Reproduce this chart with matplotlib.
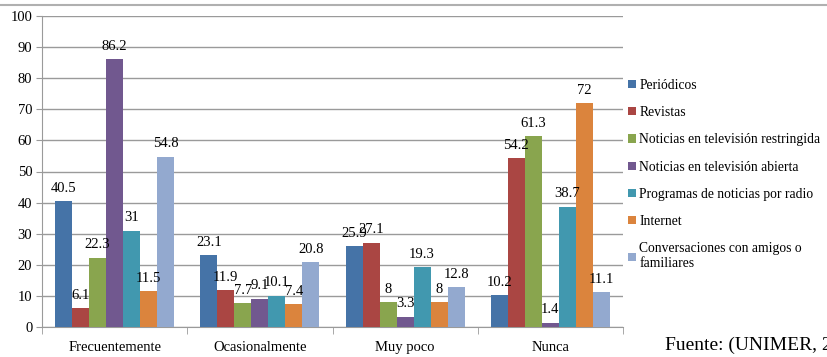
import matplotlib.pyplot as plt
import matplotlib.lines as mlines
import numpy as np

plt.rcParams['font.family'] = ['Liberation Serif', 'DejaVu Serif']

# categorias y series
categorias = ["Frecuentemente", "Ocasionalmente", "Muy poco", "Nunca"]
series = ["Periódicos", "Revistas", "Noticias en televisión restringida",
          "Noticias en televisión abierta", "Programas de noticias por radio",
          "Internet", "Conversaciones con amigos o\nfamiliares"]
periodicos = [40.5, 23.1, 25.9, 10.2]
revistas = [6.1, 11.9, 27.1, 54.2]
tv_restringida = [22.3, 7.7, 8, 61.3]
tv_abierta = [86.2, 9.1, 3.3, 1.4]
radio = [31, 10.1, 19.3, 38.7]
internet = [11.5, 7.4, 8, 72]
conversaciones = [54.8, 20.8, 12.8, 11.1]
valores = [periodicos, revistas, tv_restringida, tv_abierta, radio, internet, conversaciones]
colores = ["#4573A7", "#AA4643", "#89A54E", "#71588F", "#4198AF", "#DB843D", "#93A9CF"]

fig = plt.figure(figsize=(8.27, 3.57), dpi=100)
ax = fig.add_axes([42/827, 30/357, 581/827, 311/357])

x = np.arange(len(categorias))
grupo = 0.82
ancho = grupo / 7
for i, (vals, c, nombre) in enumerate(zip(valores, colores, series)):
    pos = x - grupo / 2 + ancho * (i + 0.5)
    ax.bar(pos, vals, ancho, color=c, label=nombre, zorder=3)
    for p, v in zip(pos, vals):
        ax.annotate(f"{v:g}", (p, v), xytext=(0, 4.5), textcoords="offset points",
                    ha="center", va="bottom", fontsize=10.5, zorder=4)

ax.set_xlim(-0.5, 3.5)
ax.set_ylim(0, 100)
ax.set_yticks(range(0, 101, 10))
ax.tick_params(axis="y", labelsize=10.5, length=4, color="#9A9A9A", pad=3)
ax.grid(axis="y", color="#9A9A9A", linewidth=1, zorder=0)
ax.set_xticks(x)
ax.set_xticklabels(categorias, fontsize=10.5)
ax.tick_params(axis="x", length=0, pad=10)
ax.set_xticks(np.arange(-0.5, 4, 1), minor=True)
ax.tick_params(axis="x", which="minor", length=5, color="#9A9A9A")
for s in ["top", "right"]:
    ax.spines[s].set_visible(False)
for s in ["left", "bottom"]:
    ax.spines[s].set_color("#9A9A9A")

ax.legend(loc="center left", bbox_to_anchor=(1.0, 0.49), frameon=False, fontsize=9.8,
          handlelength=0.55, handleheight=0.55, handletextpad=0.25, labelspacing=1.05,
          borderaxespad=0.2, borderpad=0.2)

# linea y resto del titulo cortado arriba
fig.add_artist(mlines.Line2D([0, 1], [1 - 5/357, 1 - 5/357], color="#B0B0B0", linewidth=1.5))
fig.text(362/827, 1 + 4/357, "g", fontsize=14, va="baseline")
fig.text(665/827, 1 - 345/357, "Fuente: (UNIMER, 2013)", fontsize=14, va="center")

fig.savefig("out.png", dpi=100)
